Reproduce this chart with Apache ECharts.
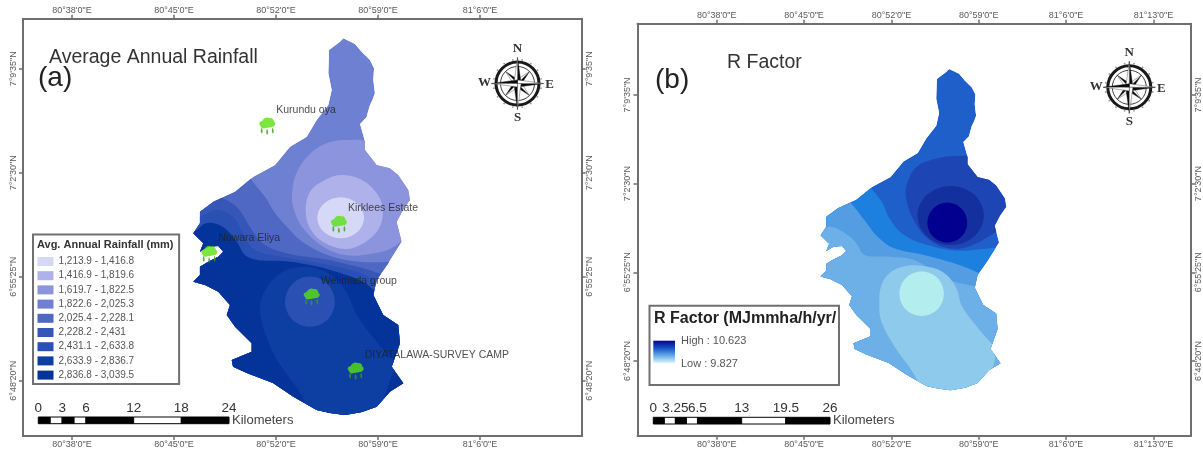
<!DOCTYPE html>
<html><head><meta charset="utf-8">
<style>html,body{margin:0;padding:0;background:#fff}#c{width:1203px;height:454px;filter:blur(0.45px)}</style>
<script src="https://cdn.jsdelivr.net/npm/echarts@6/dist/echarts.min.js"></script>
</head><body><div id="c"></div>
<script>
// All map coordinates: arc-minutes east of 80°38'0"E, arc-minutes north of 6°48'20"N
const lonTicksA=[0,7,14,21,28];
const lonLabelsA=["80°38'0\"E","80°45'0\"E","80°52'0\"E","80°59'0\"E","81°6'0\"E"];
const lonTicksB=[0,7,14,21,28,35];
const lonLabelsB=["80°38'0\"E","80°45'0\"E","80°52'0\"E","80°59'0\"E","81°6'0\"E","81°13'0\"E"];
const latTicks=[0,7.0833,14.1667,21.25];
const latLabels=["6°48'20\"N","6°55'25\"N","7°2'30\"N","7°9'35\"N"];

const watershed=[[18.62,23.32],[19.01,23.14],[19.42,22.94],[19.88,22.41],[20.45,21.85],[20.73,21.28],[20.68,20.48],[20.79,19.58],[20.62,19.12],[20.45,18.78],[20.31,18.30],[20.22,17.94],[19.77,17.49],[19.95,16.85],[20.11,16.28],[20.11,15.72],[20.91,14.69],[21.82,14.47],[22.39,14.01],[23.08,12.99],[23.20,12.31],[22.72,11.63],[22.28,10.81],[22.63,9.47],[21.71,8.00],[20.91,6.86],[20.68,5.84],[21.36,4.48],[22.39,3.79],[22.51,2.55],[21.94,0.95],[22.74,-0.18],[21.82,-0.75],[20.91,-1.77],[19.90,-2.13],[18.74,-2.34],[17.71,-2.20],[16.79,-2.00],[15.19,-1.09],[13.79,-0.16],[11.99,0.52],[11.05,0.95],[10.96,1.41],[12.33,1.98],[12.33,2.55],[11.19,3.68],[10.62,4.48],[10.84,5.16],[10.04,6.06],[9.13,6.52],[8.32,6.74],[8.78,7.20],[8.78,7.77],[9.35,8.11],[10.04,8.45],[10.38,8.79],[10.04,9.18],[9.35,9.13],[8.78,8.79],[9.01,9.36],[8.32,10.04],[8.78,10.72],[8.78,11.51],[9.70,12.19],[11.19,12.87],[12.44,13.90],[13.93,14.69],[14.96,15.94],[16.11,16.62],[16.79,17.76],[17.59,18.78],[17.82,19.80],[17.59,20.94],[17.64,22.53],[18.39,23.09]];

const classLabels=["1,213.9 - 1,416.8","1,416.9 - 1,819.6","1,619.7 - 1,822.5","1,822.6 - 2,025.3","2,025.4 - 2,228.1","2,228.2 - 2,431","2,431.1 - 2,633.8","2,633.9 - 2,836.7","2,836.8 - 3,039.5"];
const classColors=['#d6d8f7','#aeb1ea','#8c94dd','#6e80d2','#4f68c4','#3657b8','#2a50b3','#0d3ea2','#04339a'];

const rainBand5=[[12.42,13.54],[13.25,12.51],[13.93,11.42],[14.76,10.47],[15.65,9.58],[16.88,8.84],[18.39,8.30],[19.97,8.09],[21.82,8.09],[23.2,8.09],[23.9,-3.4],[6.7,-3.4],[6.7,14.3],[11.53,14.7]];
const rainBand6=[[10.16,12.58],[11.32,11.83],[12.35,10.27],[13.25,9.24],[14.96,8.63],[17.23,8.29],[19.08,7.88],[20.79,7.40],[22.51,6.52],[23.9,-3.4],[6.7,-3.4],[6.7,13.67],[9.13,13.67]];
const rainBand7=[[8.65,11.15],[9.95,11.63],[11.05,11.15],[11.74,10.06],[12.56,8.90],[14.48,8.43],[16.54,8.09],[18.60,7.68],[20.11,7.20],[21.48,6.38],[22.85,5.50],[23.9,-3.4],[6.7,-3.4],[6.7,11.1]];
const rainBand9=[[8.30,10.13],[9.26,10.74],[10.36,10.47],[11.32,9.45],[11.87,8.56],[12.70,8.22],[14.48,8.15],[16.33,7.88],[18.19,7.40],[19.97,6.72],[21.34,5.63],[22.85,4.48],[23.9,-3.4],[6.7,-3.4],[6.7,10.1]];
const rainSouth8=[[12.90,5.02],[13.25,6.18],[14.14,7.20],[15.17,7.68],[16.68,7.68],[18.05,7.00],[18.87,5.98],[19.63,4.34],[21.27,2.23],[22.24,1.07],[21.96,0.39],[21.48,-0.97],[20.45,-3.02],[17.16,-3.02],[15.44,-0.50],[14.07,1.41],[13.18,3.45]];
const rainSouth7=[[16.33,7.09],[17.54,6.59],[18.04,5.38],[17.54,4.17],[16.33,3.67],[15.12,4.17],[14.62,5.38],[15.12,6.59]];
const rainNorth3=[[15.10,12.65],[15.44,14.22],[16.47,15.58],[17.71,16.26],[18.94,16.40],[20.31,16.26],[21.82,15.03],[23.20,12.99],[23.33,10.61],[22.17,9.18],[20.45,8.63],[18.74,8.56],[17.16,9.18],[15.85,10.40],[15.24,11.63]];
const rainNorth2=[[16.04,11.49],[16.33,12.85],[17.36,13.67],[18.53,14.01],[19.90,13.67],[21.00,12.65],[21.34,11.49],[21.00,10.27],[19.90,9.31],[18.74,8.97],[17.36,9.38],[16.40,10.27]];
const rainNorth1=[[18.44,12.50],[19.57,12.09],[20.04,11.10],[19.57,10.11],[18.44,9.70],[17.31,10.11],[16.84,11.10],[17.31,12.09]];

const stationNames=['Kurundu oya','Kirklees Estate','Nuwara Eliya','Welimada group','DIYATALAWA-SURVEY CAMP'];
const stationLon=[13.40,18.32,9.42,16.45,19.47];
const stationLat=[17.42,10.72,8.68,5.77,0.73];

const rBandA=[[12.49,13.66],[13.29,12.60],[13.82,11.40],[15.02,10.06],[16.88,9.27],[19.28,8.81],[21.15,8.92],[22.61,9.08],[23.81,9.1],[23.9,-3.4],[6.7,-3.4],[6.7,14.3],[11.53,14.7]];
const rBandB=[[10.63,12.72],[11.83,11.26],[12.89,9.93],[14.22,9.00],[16.62,8.47],[19.02,7.80],[21.02,7.00],[21.95,6.33],[23.41,5.27],[23.9,-3.4],[6.7,-3.4],[6.7,13.5],[9.5,13.5]];
const rBandC=[[8.31,10.46],[9.17,10.73],[10.49,10.06],[11.29,9.27],[11.83,8.47],[13.69,8.33],[15.82,8.07],[18.06,6.73],[19.42,6.23],[20.75,5.91],[22.6,4.87],[23.9,-3.4],[6.7,-3.4],[6.7,10.4]];
const rSouthD=[[13.03,4.61],[13.16,5.93],[13.82,7.00],[14.89,7.53],[16.49,7.59],[18.08,7.13],[19.15,5.93],[19.68,4.34],[21.28,2.21],[22.21,1.01],[22.08,-0.58],[20.38,-2.72],[17.16,-2.72],[15.42,-0.46],[14.09,1.41],[13.16,3.27]];
const rSouthE=[[16.42,7.14],[17.68,6.63],[18.20,5.37],[17.68,4.11],[16.42,3.60],[15.16,4.11],[14.64,5.37],[15.16,6.63]];
const rNorth1=[[15.16,13.10],[15.42,14.62],[16.22,15.65],[17.82,16.21],[19.18,16.37],[20.62,16.29],[22.61,15.26],[24.21,13.26],[23.57,11.02],[21.98,10.06],[20.86,9.42],[19.26,8.95],[17.42,9.42],[16.06,10.78]];
const rNorth2=[[18.75,13.98],[20.63,13.29],[21.41,11.62],[20.63,9.95],[18.75,9.26],[16.87,9.95],[16.09,11.62],[16.87,13.29]];
const rNorth3=[[18.48,12.65],[19.61,12.18],[20.08,11.05],[19.61,9.92],[18.48,9.45],[17.35,9.92],[16.88,11.05],[17.35,12.18]];

const scaleKmA=[0,1.5,3,4.5,6,12,18,24];
const scaleLabelsA=[0,3,6,12,18,24];
const scaleKmB=[0,1.625,3.25,4.875,6.5,13,19.5,26];
const scaleLabelsB=[0,3.25,6.5,13,19.5,26];

const FONT='"Liberation Sans", Arial, sans-serif';
const GREY='#6f6f6f';

function zoneSeries(pts,color,axisIdx,name,smooth){
  return {type:'custom',name:name,xAxisIndex:axisIdx,yAxisIndex:axisIdx,coordinateSystem:'cartesian2d',
    itemStyle:{color:color},data:pts,silent:true,clip:false,
    renderItem:function(p,api){
      if(p.dataIndex!==0) return null;
      return {type:'polygon',
        shape:{points:pts.map(q=>api.coord(q)),smooth:smooth===undefined?0.37:smooth},
        clipPath:{type:'polygon',shape:{points:watershed.map(q=>api.coord(q))}},
        style:{fill:color,stroke:null}};
    }};
}
function geoAxes(min,max,ticks,labels,grid,dim){
  const fmt=v=>{const i=ticks.findIndex(t=>Math.abs(t-v)<1e-6);return i<0?'':labels[i];};
  const pos=dim==='x'?['bottom','top']:['left','right'];
  return pos.map((ps,i)=>({type:'value',gridIndex:grid,position:ps,min:min,max:max,
    axisLine:{show:true,onZero:false,lineStyle:{color:GREY,width:2}},
    axisTick:{show:true,length:4,customValues:ticks,lineStyle:{color:GREY,width:1.5}},
    splitLine:{show:false},
    axisLabel:{show:true,customValues:ticks,formatter:fmt,fontSize:9,fontFamily:FONT,color:'#5a5a5a',
      rotate:dim==='y'?90:0,margin:dim==='x'?4:(ps==='left'?5:3),hideOverlap:false}}));
}
function scaleAxis(grid,km,labels){
  return {type:'value',gridIndex:grid,position:'top',min:km[0],max:km[km.length-1],
    axisLine:{show:false,onZero:false},axisTick:{show:false},splitLine:{show:false},
    name:'Kilometers',nameLocation:'end',nameGap:3,nameMoveOverlap:false,
    nameTextStyle:{fontSize:13,fontFamily:FONT,color:'#444',align:'left',verticalAlign:'top',lineHeight:6},
    axisLabel:{customValues:labels,fontSize:13.5,fontFamily:FONT,color:'#333',margin:2,hideOverlap:false,
      showMinLabel:true,showMaxLabel:true}};
}
function scaleSeries(axisIdx,km){
  const rows=km.slice(0,-1).map((k,i)=>[k,km[i+1]]);
  return {type:'custom',xAxisIndex:axisIdx,yAxisIndex:axisIdx,silent:true,data:rows,encode:{x:[0,1]},
    renderItem:function(p,api){
      const a=api.coord([api.value(0),0]),b=api.coord([api.value(1),1]);
      return {type:'rect',shape:{x:a[0],y:b[1],width:b[0]-a[0],height:a[1]-b[1]},
        style:{fill:p.dataIndex%2?'#fff':'#000',stroke:'#000',lineWidth:1}};
    }};
}
const cloudPath='path://M2 10C0 7 3 6 5 5C6 2 10 0 13 2C16 1 18 4 18 6C21 8 19 11 17 12L6 14C4 14 3 12 2 10Z';
const rainPath='path://M2 0C3 1 4 3 3 4C2 5 1 4 1 3C1 2 1 1 2 0ZM9 1C10 2 11 4 10 5C9 6 8 5 8 4C8 3 8 2 9 1ZM16 0C17 1 18 3 17 4C16 5 15 4 15 3C15 2 15 1 16 0Z';
const stationPts=stationLon.map((x,i)=>({name:stationNames[i],value:[x,stationLat[i]]}));

function compass(cx,cy){
  const ch=[];
  ch.push({type:'circle',shape:{cx:cx,cy:cy,r:21.5},style:{fill:'#fff',stroke:'#1a1a1a',lineWidth:3}});
  ch.push({type:'circle',shape:{cx:cx,cy:cy,r:17},style:{fill:'none',stroke:'#444',lineWidth:1}});
  for(let k=0;k<16;k++){const a=k*Math.PI/8+Math.PI/16;
    ch.push({type:'circle',shape:{cx:cx+24*Math.cos(a),cy:cy+24*Math.sin(a),r:.9},style:{fill:'#999'}});}
  [1,3,5,7,0,2,4,6].forEach(k=>{
    const a=k*Math.PI/4-Math.PI/2,L=k%2?17:26,w=3.6;
    const tip=[cx+L*Math.cos(a),cy+L*Math.sin(a)];
    const s1=[cx+w*Math.cos(a+Math.PI/2),cy+w*Math.sin(a+Math.PI/2)];
    const s2=[cx-w*Math.cos(a+Math.PI/2),cy-w*Math.sin(a+Math.PI/2)];
    ch.push({type:'polygon',shape:{points:[[cx,cy],tip,s1]},style:{fill:'#0a0a0a',stroke:'#0a0a0a',lineWidth:.4}});
    ch.push({type:'polygon',shape:{points:[[cx,cy],tip,s2]},style:{fill:'#fff',stroke:'#333',lineWidth:.4}});
  });
  [['N',0,-35],['S',0,34],['W',-33,-1],['E',32,1]].forEach(t=>{
    ch.push({type:'text',style:{x:cx+t[1],y:cy+t[2],text:t[0],fill:'#333',align:'center',verticalAlign:'middle',
      font:'bold 13px "Liberation Serif", serif'}});
  });
  return ch;
}
function txt(text,left,top,size,weight,color){
  return {text:text,left:left,top:top,padding:0,itemGap:0,
    textStyle:{fontSize:size,fontWeight:weight||'normal',color:color||'#333',fontFamily:FONT}};
}
const option={
  animation:false,backgroundColor:'#fff',tooltip:{show:false},
  title:[
    txt('Average Annual Rainfall',49,48,19.5,'normal','#333'),
    txt('(a)',38,64,28,'normal','#222'),
    txt('R Factor',727,53,19.5,'normal','#333'),
    txt('(b)',655,66,28,'normal','#222'),
    txt('Avg. Annual Rainfall (mm)',37,239,11,'bold','#333'),
    txt('R Factor (MJmmha/h/yr/',654,311,16,'bold','#222'),
    txt('High : 10.623',681,335,11,'normal','#555'),
    txt('Low : 9.827',681,358,11,'normal','#555')
  ],
  grid:[
    {left:23,top:18.7,width:558.7,height:417.3},
    {left:637.5,top:23.7,width:555.2,height:412},
    {left:38.3,top:417,width:190.7,height:6.7},
    {left:653.3,top:417.3,width:176.7,height:6.7}
  ],
  xAxis:[
    ...geoAxes(-3.363,34.98,lonTicksA,lonLabelsA,0,'x'),
    ...geoAxes(-6.35,38.01,lonTicksB,lonLabelsB,1,'x'),
    scaleAxis(2,scaleKmA,scaleLabelsA),scaleAxis(3,scaleKmB,scaleLabelsB)
  ],
  yAxis:[
    ...geoAxes(-3.767,24.66,latTicks,latLabels,0,'y'),
    ...geoAxes(-5.97,26.94,latTicks,latLabels,1,'y'),
    {type:'value',gridIndex:2,min:0,max:1,show:false},
    {type:'value',gridIndex:3,min:0,max:1,show:false}
  ],
  legend:{left:33,top:234.5,orient:'vertical',data:classLabels,icon:'rect',itemWidth:16,itemHeight:9,itemGap:4.2,itemStyle:{borderWidth:0},
    padding:[22,45,4,4.5],borderColor:'#707070',borderWidth:2,backgroundColor:'#fff',selectedMode:false,
    textStyle:{fontSize:10,color:'#555',fontFamily:FONT}},
  graphic:[
    {type:'group',children:compass(517.5,83.5)},
    {type:'group',children:compass(1129.3,87.3)},
    {type:'rect',shape:{x:649.5,y:305.7,width:189.5,height:79.3},style:{fill:'#fff',stroke:'#707070',lineWidth:2}},
    {type:'rect',shape:{x:653.3,y:340.7,width:21.7,height:22.6},
      style:{fill:{type:'linear',x:0,y:0,x2:0,y2:1,colorStops:[{offset:0,color:'#02048f'},{offset:.35,color:'#1a58c8'},{offset:.7,color:'#6fb4ea'},{offset:1,color:'#e4f8fb'}]}}}
  ],
  series:[
    zoneSeries(watershed,classColors[3],0,classLabels[3],0),
    zoneSeries(rainBand5,classColors[4],0,classLabels[4]),
    zoneSeries(rainBand6,classColors[5],0,classLabels[5]),
    zoneSeries(rainBand7,classColors[6],0,classLabels[6]),
    zoneSeries(rainBand9,classColors[8],0,classLabels[8]),
    zoneSeries(rainSouth8,classColors[7],0,classLabels[7]),
    zoneSeries(rainSouth7,classColors[6],0,classLabels[6]),
    zoneSeries(rainNorth3,classColors[2],0,classLabels[2]),
    zoneSeries(rainNorth2,classColors[1],0,classLabels[1]),
    zoneSeries(rainNorth1,classColors[0],0,classLabels[0]),
    {type:'scatter',xAxisIndex:0,yAxisIndex:0,z:5,data:stationPts,symbol:rainPath,symbolSize:[13,7],symbolOffset:[0,6],silent:true,
      itemStyle:{color:'#3c9a1c'}},
    {type:'scatter',xAxisIndex:0,yAxisIndex:0,z:6,data:stationPts,symbol:cloudPath,symbolSize:[16,11],symbolOffset:[0,-2],silent:true,
      itemStyle:{color:'#5ae010'},
      label:{show:true,formatter:'{b}',position:'right',distance:0,offset:[1,-13],fontSize:10.5,fontFamily:FONT,color:'#222'}},
    zoneSeries(watershed,'#1f5fc9',2,'r0',0),
    zoneSeries(rBandA,'#1e80de',2,'r1'),
    zoneSeries(rBandB,'#559de3',2,'r2'),
    zoneSeries(rBandC,'#6db0e7',2,'r3'),
    zoneSeries(rSouthD,'#8ecaeb',2,'r4'),
    zoneSeries(rSouthE,'#b4eded',2,'r5'),
    zoneSeries(rNorth1,'#1e45b4',2,'r6'),
    zoneSeries(rNorth2,'#14309f',2,'r7'),
    zoneSeries(rNorth3,'#02008f',2,'r8'),
    scaleSeries(4,scaleKmA),scaleSeries(5,scaleKmB)
  ]
};
const chart=echarts.init(document.getElementById('c'));
chart.setOption(option);
</script></body></html>
